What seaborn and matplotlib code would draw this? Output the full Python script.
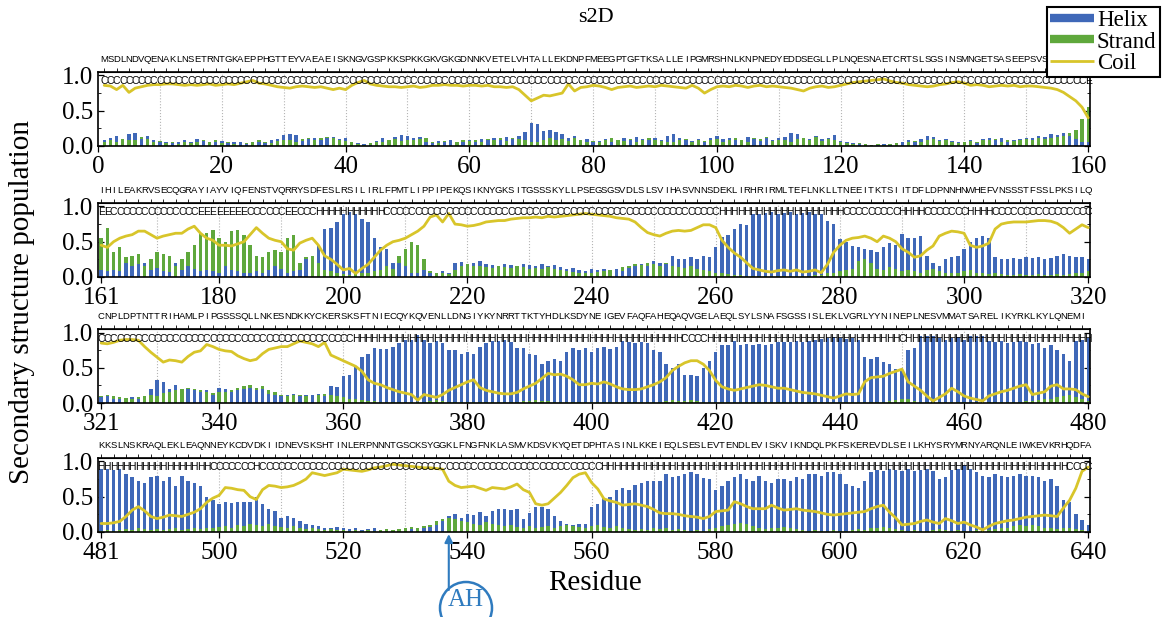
import numpy as np
import pandas as pd
import matplotlib
matplotlib.use("Agg")
import matplotlib.pyplot as plt
import matplotlib.transforms as mtransforms
from matplotlib.lines import Line2D
from matplotlib.patches import Ellipse
from matplotlib.ticker import MultipleLocator
import seaborn as sns

# ---- data: one row of the figure = 160 residues ----
starts = [1, 161, 321, 481]

seq_1 = ("MSDLNDVQENAKLNSETRNTGKAEPPHGTTEYVAEAEISKNGVGSPKKSPKKGKVGKGDNNKVETELVHT"
         "ALLEKDNPFMEEGPTGFTKSALLEIPGMRSHNLKNPNEDYEDDSEGLLPLNQESNAETCRTSLSGSINSM"
         "NGETSASEEPSVSNR")
seq_2 = ("IHILEAKRVSECQGRAYIAYVIQFENSTVQRRYSDFESLRSILIRLFPMTLIPPIPEKQSIKNYGKSITG"
         "SSSKYLLPSEGSGSVDLSLSVIHASVNNSDEKLIRHRIRMLTEFLNKLLTNEEITKTSIITDFLDPNNHN"
         "WHEFVNSSSTFSSLPKSILQ")
seq_3 = ("CNPLDPTNTTRIHAMLPIPGSSSQLLNKESNDKKYCKERSKSFTNIECQYKQVENLLDNGIYKYNRRTTK"
         "TYHDLKSDYNEIGEVFAQFAHEQAQVGELAEQLSYLSNAFSGSSISLEKLVGRLYYNINEPLNESVMMAT"
         "SARELIKYRKLKYLQNEMI")
seq_4 = ("KKSLNSKRAQLEKLEAQNNEYKCDVDKIIDNEVSKSHTINLERPNNNTGSCKSYGGKLFNGFNKLASMVK"
         "DSVKYQETDPHTASINLKKEIEQLSESLEVTENDLEVISKVIKNDQLPKFSKEREVDLSEILKHYSRYM"
         "RNYARQNLEIWKEVKRHQDFA")

helix_1 = [0.08, 0.12, 0.14, 0.10, 0.17, 0.18, 0.10, 0.14, 0.08, 0.06,
           0.05, 0.04, 0.06, 0.08, 0.05, 0.10, 0.07, 0.06, 0.05, 0.07,
           0.04, 0.06, 0.05, 0.03, 0.06, 0.05, 0.04, 0.08, 0.10, 0.15,
           0.17, 0.16, 0.07, 0.10, 0.12, 0.09, 0.11, 0.13, 0.10, 0.12,
           0.06, 0.04, 0.03, 0.02, 0.07, 0.12, 0.09, 0.13, 0.15, 0.14,
           0.12, 0.13, 0.05, 0.04, 0.07, 0.06, 0.08, 0.06, 0.05, 0.09,
           0.06, 0.10, 0.08, 0.12, 0.09, 0.13, 0.10, 0.14, 0.20, 0.33,
           0.31, 0.21, 0.22, 0.20, 0.17, 0.12, 0.14, 0.09, 0.10, 0.06,
           0.07, 0.10, 0.06, 0.08, 0.12, 0.09, 0.13, 0.10, 0.08, 0.11,
           0.09, 0.14, 0.17, 0.12, 0.08, 0.07, 0.10, 0.06, 0.12, 0.14,
           0.10, 0.12, 0.08, 0.09, 0.13, 0.10, 0.07, 0.11, 0.09, 0.12,
           0.13, 0.18, 0.17, 0.12, 0.10, 0.14, 0.10, 0.12, 0.16, 0.07,
           0.05, 0.04, 0.03, 0.03, 0.02, 0.02, 0.03, 0.02, 0.04, 0.05,
           0.08, 0.06, 0.10, 0.14, 0.13, 0.09, 0.10, 0.07, 0.05, 0.06,
           0.08, 0.04, 0.10, 0.12, 0.08, 0.11, 0.06, 0.08, 0.10, 0.12,
           0.11, 0.14, 0.13, 0.17, 0.15, 0.18, 0.14, 0.10, 0.06, 0.05]
strand_1 = [0.05, 0.08, 0.06, 0.10, 0.08, 0.09, 0.13, 0.10, 0.06, 0.07,
            0.04, 0.06, 0.03, 0.05, 0.04, 0.06, 0.08, 0.05, 0.09, 0.04,
            0.05, 0.03, 0.06, 0.04, 0.05, 0.08, 0.06, 0.04, 0.07, 0.09,
            0.08, 0.05, 0.10, 0.12, 0.09, 0.11, 0.13, 0.12, 0.09, 0.07,
            0.05, 0.03, 0.02, 0.04, 0.06, 0.05, 0.08, 0.10, 0.07, 0.09,
            0.08, 0.10, 0.12, 0.06, 0.04, 0.07, 0.09, 0.06, 0.08, 0.07,
            0.09, 0.06, 0.10, 0.08, 0.11, 0.07, 0.12, 0.10, 0.09, 0.05,
            0.06, 0.08, 0.12, 0.09, 0.10, 0.07, 0.11, 0.08, 0.05, 0.07,
            0.06, 0.09, 0.12, 0.08, 0.07, 0.10, 0.06, 0.09, 0.11, 0.08,
            0.07, 0.05, 0.06, 0.08, 0.10, 0.06, 0.09, 0.07, 0.08, 0.10,
            0.06, 0.09, 0.11, 0.08, 0.06, 0.12, 0.10, 0.13, 0.07, 0.09,
            0.08, 0.06, 0.10, 0.12, 0.09, 0.13, 0.07, 0.10, 0.08, 0.05,
            0.04, 0.03, 0.04, 0.03, 0.02, 0.03, 0.02, 0.03, 0.04, 0.06,
            0.05, 0.07, 0.06, 0.08, 0.10, 0.07, 0.09, 0.06, 0.04, 0.05,
            0.07, 0.06, 0.08, 0.09, 0.10, 0.06, 0.08, 0.07, 0.09, 0.10,
            0.08, 0.11, 0.10, 0.12, 0.13, 0.14, 0.18, 0.22, 0.38, 0.55]
coil_1 = [0.86, 0.85, 0.80, 0.86, 0.76, 0.82, 0.84, 0.86, 0.87, 0.87,
          0.88, 0.88, 0.87, 0.86, 0.87, 0.86, 0.87, 0.88, 0.86, 0.87,
          0.88, 0.87, 0.89, 0.91, 0.93, 0.89, 0.88, 0.86, 0.84, 0.83,
          0.82, 0.84, 0.85, 0.84, 0.83, 0.84, 0.82, 0.80, 0.82, 0.80,
          0.86, 0.90, 0.93, 0.88, 0.86, 0.85, 0.84, 0.84, 0.83, 0.84,
          0.85, 0.83, 0.84, 0.86, 0.86, 0.87, 0.86, 0.86, 0.85, 0.86,
          0.86, 0.85, 0.86, 0.84, 0.84, 0.83, 0.84, 0.80, 0.72, 0.64,
          0.68, 0.72, 0.71, 0.73, 0.75, 0.88, 0.78, 0.83, 0.84, 0.86,
          0.85, 0.83, 0.80, 0.83, 0.84, 0.85, 0.83, 0.84, 0.85, 0.84,
          0.86, 0.85, 0.84, 0.83, 0.82, 0.86, 0.82, 0.75, 0.80, 0.84,
          0.85, 0.84, 0.86, 0.85, 0.83, 0.85, 0.86, 0.84, 0.85, 0.84,
          0.83, 0.82, 0.80, 0.78, 0.82, 0.84, 0.85, 0.83, 0.84, 0.86,
          0.88, 0.90, 0.91, 0.92, 0.93, 0.94, 0.95, 0.92, 0.90, 0.89,
          0.87, 0.86, 0.85, 0.84, 0.85, 0.87, 0.88, 0.90, 0.91, 0.89,
          0.86, 0.87, 0.86, 0.84, 0.85, 0.86, 0.85, 0.86, 0.84, 0.85,
          0.85, 0.84, 0.83, 0.82, 0.80, 0.76, 0.70, 0.64, 0.55, 0.40]

helix_2 = [0.10, 0.08, 0.10, 0.08, 0.20, 0.15, 0.18, 0.20, 0.10, 0.13,
           0.09, 0.07, 0.20, 0.10, 0.15, 0.12, 0.08, 0.10, 0.08, 0.06,
           0.15, 0.10, 0.08, 0.06, 0.05, 0.08, 0.06, 0.10, 0.15, 0.12,
           0.05, 0.08, 0.10, 0.25, 0.30, 0.45, 0.68, 0.69, 0.78, 0.90,
           0.92, 0.90, 0.82, 0.78, 0.55, 0.42, 0.40, 0.20, 0.20, 0.15,
           0.06, 0.05, 0.10, 0.06, 0.05, 0.08, 0.06, 0.20, 0.21, 0.18,
           0.20, 0.22, 0.18, 0.17, 0.16, 0.18, 0.17, 0.16, 0.18, 0.17,
           0.16, 0.18, 0.15, 0.17, 0.14, 0.12, 0.13, 0.10, 0.09, 0.11,
           0.10, 0.12, 0.10, 0.11, 0.09, 0.13, 0.15, 0.18, 0.16, 0.22,
           0.20, 0.18, 0.30, 0.26, 0.25, 0.28, 0.26, 0.30, 0.28, 0.42,
           0.56, 0.60, 0.68, 0.75, 0.73, 0.89, 0.90, 0.91, 0.92, 0.90,
           0.91, 0.92, 0.90, 0.91, 0.92, 0.90, 0.90, 0.79, 0.75, 0.54,
           0.50, 0.44, 0.43, 0.40, 0.38, 0.36, 0.43, 0.48, 0.45, 0.61,
           0.55, 0.55, 0.58, 0.30, 0.20, 0.15, 0.25, 0.28, 0.30, 0.40,
           0.50, 0.55, 0.58, 0.55, 0.28, 0.26, 0.25, 0.27, 0.26, 0.28,
           0.27, 0.28, 0.26, 0.27, 0.30, 0.32, 0.30, 0.28, 0.28, 0.25]
strand_2 = [0.55, 0.70, 0.35, 0.42, 0.28, 0.30, 0.33, 0.15, 0.25, 0.35,
            0.32, 0.30, 0.15, 0.25, 0.35, 0.45, 0.62, 0.62, 0.66, 0.55,
            0.50, 0.65, 0.67, 0.60, 0.45, 0.30, 0.28, 0.35, 0.38, 0.35,
            0.55, 0.60, 0.20, 0.28, 0.30, 0.20, 0.10, 0.08, 0.06, 0.04,
            0.03, 0.04, 0.05, 0.06, 0.08, 0.10, 0.15, 0.12, 0.30, 0.40,
            0.50, 0.45, 0.25, 0.08, 0.05, 0.05, 0.04, 0.10, 0.15, 0.18,
            0.16, 0.15, 0.14, 0.13, 0.15, 0.14, 0.13, 0.15, 0.14, 0.12,
            0.13, 0.12, 0.14, 0.12, 0.10, 0.08, 0.07, 0.06, 0.05, 0.06,
            0.07, 0.08, 0.10, 0.12, 0.14, 0.15, 0.18, 0.17, 0.20, 0.18,
            0.16, 0.20, 0.15, 0.14, 0.13, 0.15, 0.12, 0.10, 0.08, 0.06,
            0.05, 0.04, 0.03, 0.03, 0.02, 0.02, 0.02, 0.02, 0.02, 0.02,
            0.02, 0.02, 0.02, 0.02, 0.02, 0.03, 0.03, 0.05, 0.06, 0.08,
            0.10, 0.12, 0.22, 0.25, 0.20, 0.12, 0.10, 0.14, 0.12, 0.08,
            0.10, 0.08, 0.06, 0.10, 0.12, 0.08, 0.06, 0.05, 0.06, 0.08,
            0.10, 0.06, 0.05, 0.04, 0.05, 0.04, 0.03, 0.03, 0.04, 0.03,
            0.03, 0.04, 0.03, 0.03, 0.04, 0.03, 0.04, 0.05, 0.06, 0.08]
coil_2 = [0.45, 0.42, 0.50, 0.55, 0.58, 0.60, 0.65, 0.65, 0.60, 0.55,
          0.58, 0.60, 0.62, 0.62, 0.68, 0.72, 0.62, 0.55, 0.52, 0.45,
          0.45, 0.44, 0.47, 0.50, 0.60, 0.70, 0.62, 0.55, 0.52, 0.50,
          0.40, 0.38, 0.48, 0.52, 0.55, 0.45, 0.30, 0.25, 0.18, 0.10,
          0.12, 0.05, 0.12, 0.18, 0.28, 0.38, 0.45, 0.50, 0.52, 0.55,
          0.60, 0.65, 0.72, 0.85, 0.88, 0.78, 0.90, 0.75, 0.74, 0.72,
          0.73, 0.75, 0.78, 0.79, 0.80, 0.80, 0.82, 0.83, 0.84, 0.84,
          0.85, 0.84, 0.86, 0.85, 0.86, 0.87, 0.88, 0.89, 0.90, 0.89,
          0.88, 0.87, 0.86, 0.84, 0.83, 0.82, 0.78, 0.70, 0.63, 0.60,
          0.58, 0.62, 0.65, 0.66, 0.65, 0.66, 0.70, 0.74, 0.74, 0.70,
          0.52, 0.42, 0.34, 0.28, 0.20, 0.12, 0.10, 0.08, 0.07, 0.09,
          0.10, 0.08, 0.10, 0.07, 0.08, 0.10, 0.06, 0.18, 0.35, 0.45,
          0.52, 0.55, 0.56, 0.58, 0.55, 0.50, 0.58, 0.55, 0.50, 0.40,
          0.35, 0.28, 0.30, 0.38, 0.44, 0.58, 0.62, 0.65, 0.64, 0.62,
          0.45, 0.42, 0.44, 0.48, 0.68, 0.75, 0.77, 0.78, 0.78, 0.78,
          0.79, 0.80, 0.80, 0.79, 0.76, 0.70, 0.62, 0.68, 0.74, 0.70]

helix_3 = [0.08, 0.10, 0.06, 0.05, 0.07, 0.08, 0.06, 0.10, 0.20, 0.33,
           0.30, 0.20, 0.25, 0.20, 0.20, 0.18, 0.15, 0.18, 0.12, 0.22,
           0.20, 0.15, 0.18, 0.20, 0.22, 0.18, 0.20, 0.13, 0.12, 0.10,
           0.11, 0.13, 0.10, 0.12, 0.11, 0.13, 0.10, 0.24, 0.23, 0.38,
           0.40, 0.52, 0.65, 0.70, 0.78, 0.76, 0.76, 0.80, 0.85, 0.90,
           0.90, 0.96, 0.90, 0.85, 0.88, 0.85, 0.75, 0.75, 0.70, 0.72,
           0.70, 0.80, 0.85, 0.88, 0.88, 0.90, 0.87, 0.78, 0.78, 0.70,
           0.68, 0.55, 0.60, 0.63, 0.60, 0.73, 0.78, 0.75, 0.78, 0.72,
           0.78, 0.80, 0.76, 0.80, 0.88, 0.87, 0.85, 0.86, 0.85, 0.75,
           0.72, 0.55, 0.50, 0.55, 0.40, 0.40, 0.38, 0.50, 0.60, 0.72,
           0.82, 0.82, 0.88, 0.82, 0.83, 0.82, 0.83, 0.82, 0.84, 0.86,
           0.86, 0.87, 0.88, 0.86, 0.88, 0.90, 0.91, 0.92, 0.93, 0.92,
           0.91, 0.92, 0.90, 0.65, 0.62, 0.65, 0.58, 0.55, 0.48, 0.45,
           0.75, 0.78, 0.95, 0.95, 0.95, 0.92, 0.90, 0.92, 0.93, 0.90,
           0.95, 0.95, 0.95, 0.88, 0.86, 0.88, 0.85, 0.87, 0.88, 0.86,
           0.84, 0.85, 0.78, 0.82, 0.75, 0.70, 0.60, 0.88, 0.90, 0.92]
strand_3 = [0.10, 0.12, 0.10, 0.08, 0.07, 0.06, 0.08, 0.10, 0.12, 0.10,
            0.14, 0.15, 0.18, 0.20, 0.22, 0.20, 0.18, 0.15, 0.14, 0.16,
            0.15, 0.18, 0.22, 0.24, 0.25, 0.22, 0.24, 0.18, 0.15, 0.12,
            0.10, 0.12, 0.11, 0.10, 0.12, 0.11, 0.13, 0.12, 0.10, 0.08,
            0.06, 0.05, 0.04, 0.03, 0.03, 0.02, 0.02, 0.02, 0.02, 0.02,
            0.02, 0.01, 0.02, 0.03, 0.04, 0.03, 0.02, 0.02, 0.02, 0.02,
            0.02, 0.02, 0.01, 0.01, 0.01, 0.01, 0.02, 0.02, 0.03, 0.03,
            0.04, 0.03, 0.03, 0.02, 0.02, 0.02, 0.01, 0.01, 0.01, 0.02,
            0.02, 0.01, 0.01, 0.01, 0.01, 0.01, 0.01, 0.02, 0.02, 0.02,
            0.02, 0.03, 0.04, 0.03, 0.03, 0.04, 0.03, 0.02, 0.02, 0.01,
            0.01, 0.01, 0.01, 0.01, 0.01, 0.01, 0.01, 0.01, 0.01, 0.01,
            0.01, 0.01, 0.01, 0.01, 0.01, 0.01, 0.01, 0.01, 0.01, 0.01,
            0.01, 0.01, 0.01, 0.02, 0.02, 0.02, 0.02, 0.03, 0.04, 0.06,
            0.06, 0.03, 0.02, 0.02, 0.02, 0.02, 0.02, 0.02, 0.02, 0.02,
            0.02, 0.02, 0.02, 0.02, 0.02, 0.02, 0.02, 0.02, 0.02, 0.03,
            0.03, 0.04, 0.05, 0.06, 0.08, 0.10, 0.12, 0.08, 0.05, 0.03]
coil_3 = [0.85, 0.84, 0.86, 0.89, 0.90, 0.90, 0.89, 0.80, 0.72, 0.65,
          0.58, 0.61, 0.60, 0.58, 0.66, 0.72, 0.74, 0.83, 0.80, 0.76,
          0.74, 0.73, 0.67, 0.63, 0.60, 0.62, 0.70, 0.76, 0.78, 0.80,
          0.80, 0.84, 0.88, 0.86, 0.84, 0.80, 0.86, 0.68, 0.64, 0.60,
          0.56, 0.52, 0.45, 0.33, 0.28, 0.26, 0.22, 0.19, 0.16, 0.14,
          0.12, 0.04, 0.12, 0.10, 0.08, 0.12, 0.18, 0.22, 0.26, 0.30,
          0.33, 0.22, 0.18, 0.16, 0.14, 0.13, 0.13, 0.15, 0.20, 0.24,
          0.28, 0.35, 0.42, 0.40, 0.41, 0.38, 0.33, 0.26, 0.26, 0.28,
          0.27, 0.30, 0.27, 0.23, 0.20, 0.19, 0.19, 0.20, 0.23, 0.26,
          0.30, 0.36, 0.46, 0.52, 0.57, 0.60, 0.60, 0.55, 0.46, 0.32,
          0.23, 0.20, 0.18, 0.20, 0.22, 0.24, 0.26, 0.25, 0.23, 0.21,
          0.21, 0.19, 0.17, 0.15, 0.14, 0.13, 0.11, 0.09, 0.07, 0.10,
          0.13, 0.12, 0.13, 0.30, 0.36, 0.37, 0.38, 0.42, 0.45, 0.48,
          0.30, 0.24, 0.18, 0.10, 0.03, 0.08, 0.13, 0.21, 0.16, 0.10,
          0.07, 0.05, 0.03, 0.10, 0.13, 0.16, 0.18, 0.21, 0.24, 0.26,
          0.12, 0.14, 0.16, 0.24, 0.26, 0.20, 0.20, 0.19, 0.13, 0.09]

helix_4 = [0.90, 0.90, 0.88, 0.90, 0.82, 0.78, 0.72, 0.70, 0.78, 0.80,
           0.72, 0.78, 0.65, 0.80, 0.72, 0.70, 0.65, 0.50, 0.45, 0.40,
           0.42, 0.41, 0.43, 0.42, 0.43, 0.50, 0.40, 0.33, 0.30, 0.20,
           0.22, 0.20, 0.15, 0.12, 0.10, 0.08, 0.06, 0.05, 0.07, 0.06,
           0.04, 0.05, 0.03, 0.04, 0.05, 0.03, 0.04, 0.03, 0.04, 0.05,
           0.04, 0.06, 0.05, 0.07, 0.10, 0.15, 0.22, 0.25, 0.20, 0.25,
           0.24, 0.28, 0.22, 0.30, 0.32, 0.32, 0.31, 0.32, 0.18, 0.27,
           0.35, 0.35, 0.32, 0.22, 0.15, 0.12, 0.10, 0.11, 0.12, 0.35,
           0.40, 0.48, 0.50, 0.60, 0.62, 0.60, 0.67, 0.70, 0.72, 0.72,
           0.72, 0.82, 0.78, 0.80, 0.82, 0.85, 0.82, 0.77, 0.75, 0.60,
           0.65, 0.72, 0.78, 0.82, 0.75, 0.72, 0.80, 0.72, 0.70, 0.75,
           0.75, 0.72, 0.78, 0.75, 0.82, 0.82, 0.80, 0.85, 0.85, 0.82,
           0.68, 0.65, 0.62, 0.72, 0.85, 0.88, 0.86, 0.90, 0.88, 0.87,
           0.89, 0.86, 0.88, 0.90, 0.87, 0.75, 0.78, 0.88, 0.90, 0.95,
           0.90, 0.85, 0.80, 0.78, 0.82, 0.80, 0.78, 0.80, 0.82, 0.79,
           0.80, 0.78, 0.72, 0.75, 0.65, 0.45, 0.42, 0.25, 0.17, 0.10]
strand_4 = [0.02, 0.03, 0.02, 0.03, 0.04, 0.03, 0.05, 0.04, 0.03, 0.04,
            0.03, 0.04, 0.05, 0.03, 0.04, 0.05, 0.04, 0.06, 0.05, 0.07,
            0.08, 0.06, 0.10, 0.09, 0.12, 0.10, 0.08, 0.11, 0.09, 0.07,
            0.06, 0.08, 0.05, 0.04, 0.05, 0.04, 0.03, 0.04, 0.03, 0.03,
            0.02, 0.03, 0.02, 0.03, 0.02, 0.03, 0.04, 0.03, 0.04, 0.05,
            0.07, 0.06, 0.08, 0.10, 0.15, 0.18, 0.20, 0.18, 0.16, 0.14,
            0.12, 0.10, 0.14, 0.12, 0.10, 0.08, 0.10, 0.07, 0.06, 0.08,
            0.06, 0.07, 0.08, 0.06, 0.09, 0.10, 0.08, 0.07, 0.06, 0.08,
            0.10, 0.07, 0.06, 0.08, 0.05, 0.04, 0.03, 0.04, 0.03, 0.05,
            0.04, 0.05, 0.03, 0.04, 0.03, 0.02, 0.03, 0.02, 0.04, 0.06,
            0.08, 0.10, 0.12, 0.13, 0.12, 0.08, 0.06, 0.04, 0.05, 0.06,
            0.07, 0.05, 0.04, 0.03, 0.02, 0.03, 0.02, 0.02, 0.03, 0.02,
            0.02, 0.03, 0.04, 0.03, 0.05, 0.06, 0.07, 0.05, 0.04, 0.03,
            0.02, 0.03, 0.02, 0.02, 0.03, 0.04, 0.03, 0.02, 0.03, 0.02,
            0.02, 0.03, 0.02, 0.03, 0.04, 0.05, 0.06, 0.08, 0.10, 0.09,
            0.10, 0.08, 0.06, 0.05, 0.04, 0.06, 0.05, 0.04, 0.03, 0.02]
coil_4 = [0.12, 0.12, 0.13, 0.15, 0.22, 0.31, 0.36, 0.30, 0.22, 0.19,
          0.21, 0.24, 0.23, 0.22, 0.25, 0.28, 0.33, 0.42, 0.48, 0.52,
          0.63, 0.62, 0.60, 0.59, 0.50, 0.46, 0.60, 0.66, 0.65, 0.63,
          0.64, 0.66, 0.70, 0.75, 0.84, 0.82, 0.80, 0.82, 0.84, 0.89,
          0.88, 0.87, 0.86, 0.88, 0.91, 0.92, 0.94, 0.96, 0.95, 0.94,
          0.93, 0.92, 0.91, 0.91, 0.90, 0.89, 0.72, 0.66, 0.63, 0.64,
          0.65, 0.62, 0.59, 0.63, 0.62, 0.61, 0.64, 0.68, 0.60, 0.56,
          0.40, 0.38, 0.40, 0.48, 0.56, 0.66, 0.77, 0.82, 0.84, 0.70,
          0.61, 0.47, 0.44, 0.42, 0.38, 0.39, 0.40, 0.38, 0.36, 0.32,
          0.27, 0.26, 0.26, 0.25, 0.23, 0.22, 0.21, 0.19, 0.22, 0.29,
          0.30, 0.31, 0.43, 0.40, 0.36, 0.33, 0.33, 0.33, 0.38, 0.34,
          0.31, 0.32, 0.33, 0.31, 0.30, 0.29, 0.27, 0.25, 0.24, 0.25,
          0.26, 0.27, 0.28, 0.29, 0.33, 0.36, 0.38, 0.28, 0.20, 0.10,
          0.11, 0.12, 0.15, 0.17, 0.14, 0.12, 0.19, 0.16, 0.12, 0.14,
          0.10, 0.07, 0.03, 0.08, 0.12, 0.14, 0.16, 0.17, 0.19, 0.21,
          0.22, 0.23, 0.24, 0.23, 0.22, 0.34, 0.45, 0.62, 0.86, 0.92]

seqs = [seq_1, seq_2, seq_3, seq_4]
helices = [helix_1, helix_2, helix_3, helix_4]
strands = [strand_1, strand_2, strand_3, strand_4]
coils = [coil_1, coil_2, coil_3, coil_4]

HELIX = "#3f68b8"
STRAND = "#5fa83c"
COIL = "#d8c52a"
AH_COL = "#2f7bbf"
NARROW = ["Liberation Sans Narrow", "Liberation Sans", "DejaVu Sans"]

sns.set_style("ticks")
plt.rcParams["font.family"] = "serif"
plt.rcParams["font.serif"] = ["Liberation Serif", "DejaVu Serif"]
for key in ["text.color", "axes.labelcolor", "xtick.color", "ytick.color", "axes.edgecolor"]:
    plt.rcParams[key] = "black"

fig = plt.figure(figsize=(11.63, 6.17), dpi=100)
bottoms = [0.7634, 0.5511, 0.3468, 0.1378]
axes = []

for k in range(4):
    start = starts[k]
    res = np.arange(start, start + 160)
    df = pd.DataFrame({"res": res, "helix": helices[k],
                       "strand": strands[k], "coil": coils[k]})
    ax = fig.add_axes([0.0843, bottoms[k], 0.853, 0.12])
    axes.append(ax)

    sns.barplot(data=df, x="res", y="helix", native_scale=True, color=HELIX,
                saturation=1, width=0.55, linewidth=0, errorbar=None, ax=ax)
    hbars = list(ax.containers[-1])
    sns.barplot(data=df, x="res", y="strand", native_scale=True, color=STRAND,
                saturation=1, width=0.55, linewidth=0, errorbar=None, ax=ax)
    sbars = list(ax.containers[-1])
    # shorter bar goes in front
    for hb, sb, hv, sv in zip(hbars, sbars, df.helix, df.strand):
        if hv < sv:
            hb.set_zorder(1.6); sb.set_zorder(1.5)
        else:
            hb.set_zorder(1.5); sb.set_zorder(1.6)
    sns.lineplot(data=df, x="res", y="coil", color=COIL, lw=2, ax=ax, zorder=3)

    # dominant state per residue
    states = np.array(["H", "E", "C"])[np.argmax(df[["helix", "strand", "coil"]].values, axis=1)]
    for r, st in zip(res, states):
        ax.text(r, 0.915, st, ha="center", va="center", fontsize=7.5,
                family=NARROW, zorder=5, clip_on=False)
    trans = mtransforms.blended_transform_factory(ax.transData, ax.transAxes)
    for r, ch in zip(res, seqs[k]):
        ax.text(r, 1.17, ch, transform=trans, ha="center", va="center",
                fontsize=6.8, family=NARROW, clip_on=False)

    end = start + 159
    lo = 0 if k == 0 else start - 0.5
    ax.set_xlim(lo, end + 0.3)
    ax.set_ylim(0, 1.05)
    for g in range(10 * int(np.ceil((lo + 1) / 10)), end, 10):
        ax.axvline(g, ls=":", color="#b5b5b5", lw=0.8, zorder=0.5)

    first = 0 if k == 0 else start
    ticks = [first] + [t for t in range(20 * (start // 20 + 1), end + 2, 20)]
    ax.set_xticks(ticks)
    ax.set_xticklabels([str(t) for t in ticks])
    ax.set_yticks([0, 0.5, 1.0])
    ax.set_yticklabels(["0.0", "0.5", "1.0"])
    ax.yaxis.set_minor_locator(MultipleLocator(0.25))
    ax.tick_params(axis="both", labelsize=18, length=4, width=0.9)
    ax.tick_params(axis="y", which="both", right=True, direction="in")
    ax.tick_params(axis="y", which="minor", length=2.5)
    ax.set_xlabel("")
    ax.set_ylabel("")
    for sp in ax.spines.values():
        sp.set_linewidth(1.2)
        sp.set_color("black")

    top = ax.secondary_xaxis("top")
    top.set_xticks(list(range(start, end + 1, 2)))
    top.set_xticklabels([])
    top.tick_params(length=3, width=0.6, direction="out")

fig.text(0.512, 1 - 17 / 617, "s2D", ha="center", va="center", fontsize=16)
fig.text(22 / 1163, 1 - 302 / 617, "Secondary structure population",
         rotation=90, ha="center", va="center", fontsize=21)
fig.text(0.512, 1 - 583 / 617, "Residue", ha="center", va="center", fontsize=21)

handles = [Line2D([], [], color=HELIX, lw=6, solid_capstyle="butt"),
           Line2D([], [], color=STRAND, lw=6, solid_capstyle="butt"),
           Line2D([], [], color=COIL, lw=2, solid_capstyle="butt")]
leg = fig.legend(handles, ["Helix", "Strand", "Coil"], loc="upper right",
                 bbox_to_anchor=(1160 / 1163, 1 - 7 / 617), fontsize=16.5,
                 frameon=True, fancybox=False, edgecolor="black", framealpha=1,
                 handlelength=1.9, handletextpad=0.15, borderpad=0.15,
                 labelspacing=0.0, borderaxespad=0)
leg.get_frame().set_linewidth(1.5)
leg.set_zorder(10)

# AH marker below the last row
ax4 = axes[3]
ax4.annotate("", xy=(537, -0.03), xycoords="data",
             xytext=(537, 1 - 590 / 617), textcoords=("data", "figure fraction"),
             arrowprops=dict(arrowstyle="-|>", color=AH_COL, lw=1.5,
                             mutation_scale=12, shrinkA=0, shrinkB=0),
             annotation_clip=False)
fig.add_artist(Ellipse((466 / 1163, 1 - 608 / 617), 52 / 1163, 52 / 617,
                       transform=fig.transFigure, fill=False, ec=AH_COL, lw=1.8))
fig.text(466 / 1163, 1 - 600 / 617, "AH", color=AH_COL, fontsize=18,
         ha="center", va="center")

fig.savefig("out.png", dpi=100)
